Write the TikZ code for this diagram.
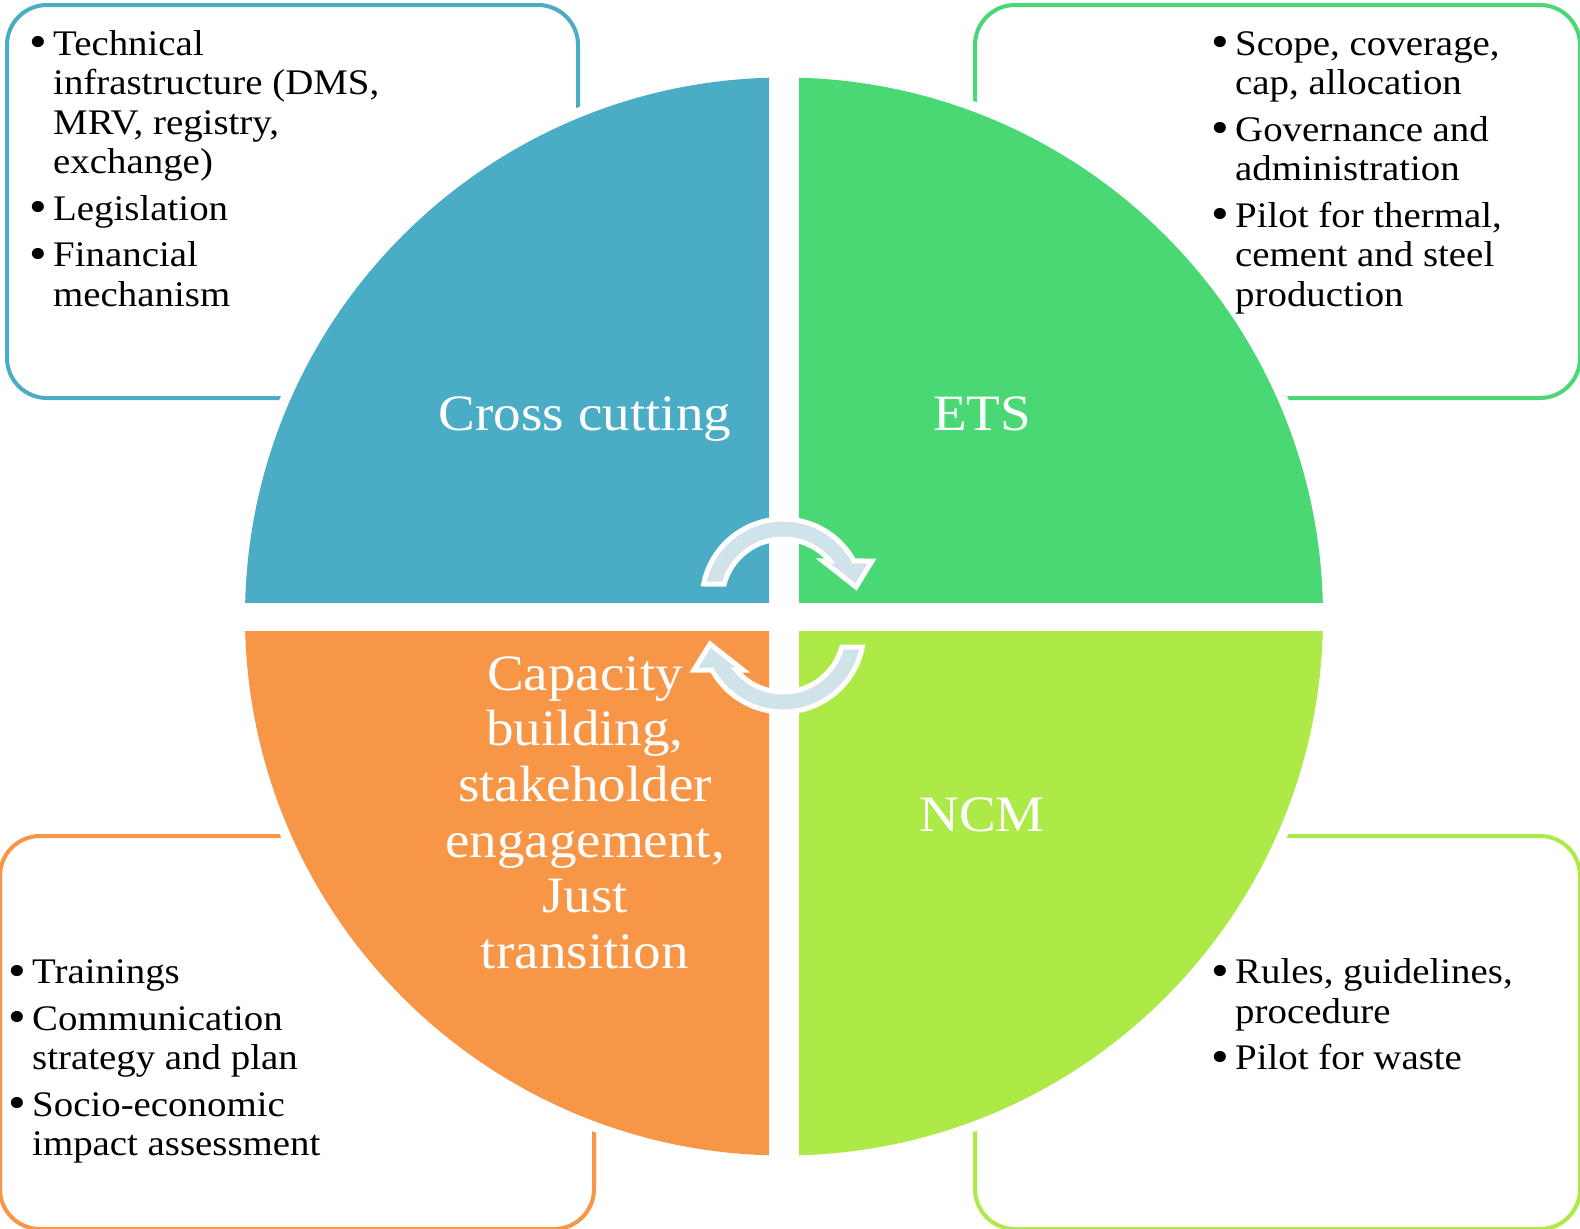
\documentclass[tikz,border=0pt]{standalone}
\usepackage{fontspec}
\usepackage{graphicx}
\setmainfont{Liberation Serif}[FakeStretch=1.08]
\usetikzlibrary{calc}
\definecolor{cblue}{RGB}{75,172,198}
\definecolor{cgreen}{RGB}{74,216,116}
\definecolor{corange}{RGB}{247,150,70}
\definecolor{clime}{RGB}{173,234,72}
\definecolor{carrow}{RGB}{208,226,234}
\newcommand\bul{\makebox[24pt][l]{\raisebox{-2.5pt}{\scalebox{1.3}{\textbullet}}}}
\begin{document}
\begin{tikzpicture}[x=1pt,y=1pt,
  infobox/.style={draw, line width=4pt, rounded corners=40pt, minimum height=393pt, anchor=north west, inner sep=0pt},
  bodytext/.style={anchor=base west, inner sep=0pt, font=\fontsize{36}{39.5}\selectfont},
  quadlabel/.style={anchor=base, inner sep=0pt, text=white, font=\fontsize{51}{55.7}\selectfont},
  cyclearrow/.style={fill=carrow, draw=white, line width=5pt, line join=miter}
]
\useasboundingbox (0,0) rectangle (1580,-1229);
\fill[white] (0,0) rectangle (1580,-1229);

% outer boxes
\node[infobox, draw=cblue,   minimum width=571pt] (boxTL) at (5,-3) {};
\node[infobox, draw=cgreen,  minimum width=605pt] (boxTR) at (973,-3) {};
\node[infobox, draw=corange, minimum width=594pt] (boxBL) at (-2,-834) {};
\node[infobox, draw=clime,   minimum width=605pt] (boxBR) at (973,-834) {};

% circle
\coordinate (C) at (784,-616.5);
\fill[white] (C) circle[radius=549];
\begin{scope}
  \clip (0,0) rectangle (769,-602);
  \fill[cblue] (C) circle[radius=539];
\end{scope}
\begin{scope}
  \clip (799,0) rectangle (1580,-602);
  \fill[cgreen] (C) circle[radius=539];
\end{scope}
\begin{scope}
  \clip (0,-631) rectangle (769,-1229);
  \fill[corange] (C) circle[radius=539];
\end{scope}
\begin{scope}
  \clip (799,-631) rectangle (1580,-1229);
  \fill[clime] (C) circle[radius=539];
\end{scope}

% quadrant labels
\node[quadlabel] (cross) at (585,-430) {Cross cutting};
\node[quadlabel] (ets) at (982,-430) {ETS};
\node[quadlabel] (ncm) at (982,-831) {NCM};
\node[quadlabel] (cap) at (585,-690) {\begin{tabular}[t]{@{}c@{}}Capacity\\building,\\stakeholder\\engagement,\\Just\\transition\end{tabular}};

% cycle arrows
\coordinate (A) at (783,-600);
\coordinate (B) at (783,-631);
\draw[cyclearrow] ($(A)+(168.6:81)$) arc[start angle=168.6, end angle=28.8, radius=81]
  -- (872,-561) -- (856,-587) -- (823,-561) -- ($(A)+(39.7:61)$)
  arc[start angle=39.7, end angle=164.8, radius=61] -- cycle;
\draw[cyclearrow] ($(B)+(348.6:81)$) arc[start angle=348.6, end angle=208.8, radius=81]
  -- (694,-670) -- (710,-644) -- (743,-670) -- ($(B)+(219.7:61)$)
  arc[start angle=219.7, end angle=344.8, radius=61] -- cycle;

% box texts
\node[bodytext] (txtTL) at (29,-55) {\begin{tabular}[t]{@{}l@{}l@{}}\bul&Technical\\&infrastructure (DMS,\\&MRV, registry,\\&exchange)\\[7pt]\bul&Legislation\\[7pt]\bul&Financial\\&mechanism\end{tabular}};
\node[bodytext] (txtTR) at (1211,-55) {\begin{tabular}[t]{@{}l@{}l@{}}\bul&Scope, coverage,\\&cap, allocation\\[7pt]\bul&Governance and\\&administration\\[7pt]\bul&Pilot for thermal,\\&cement and steel\\&production\end{tabular}};
\node[bodytext] (txtBL) at (8,-983.5) {\begin{tabular}[t]{@{}l@{}l@{}}\bul&Trainings\\[7pt]\bul&Communication\\&strategy and plan\\[7pt]\bul&Socio-economic\\&impact assessment\end{tabular}};
\node[bodytext] (txtBR) at (1211,-983.5) {\begin{tabular}[t]{@{}l@{}l@{}}\bul&Rules, guidelines,\\&procedure\\[7pt]\bul&Pilot for waste\end{tabular}};
\end{tikzpicture}
\end{document}
